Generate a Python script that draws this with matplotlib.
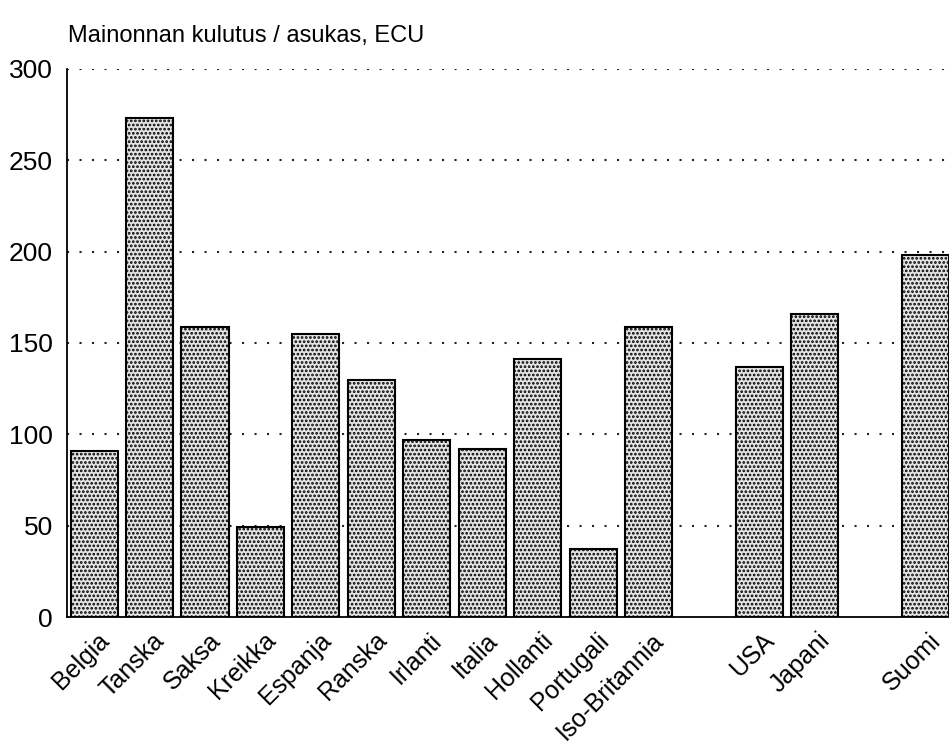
import matplotlib
matplotlib.use("Agg")
import matplotlib.pyplot as plt
from matplotlib.transforms import ScaledTranslation

# advertising spend per inhabitant, ECU
countries = ["Belgia", "Tanska", "Saksa", "Kreikka", "Espanja", "Ranska", "Irlanti",
             "Italia", "Hollanti", "Portugali", "Iso-Britannia", "USA", "Japani", "Suomi"]
slots = [0, 1, 2, 3, 4, 5, 6, 7, 8, 9, 10, 12, 13, 15]
spend = [91, 273, 159, 49, 155, 130, 97, 92, 141, 37, 159, 137, 166, 198]
yticks = [0, 50, 100, 150, 200, 250, 300]

plt.rcParams["font.family"] = ["Liberation Sans", "DejaVu Sans"]
plt.rcParams["hatch.linewidth"] = 1.3

fig = plt.figure(figsize=(9.49, 7.45), dpi=100)
ax = fig.add_axes([0.0706, 0.1718, 0.9294, 0.7356])

ax.bar(slots, spend, width=0.85, color="#e4e4e4", edgecolor="black",
       linewidth=1.5, hatch="....", zorder=3)
ax.set_xlim(-0.49, 15.42)
ax.set_ylim(0, 300)

# dotted reference lines every 50 ECU
for v in yticks[1:]:
    ax.axhline(v, color="#222222", linestyle=(0, (1, 5)), linewidth=1.5, zorder=1)

ax.set_yticks(yticks)
ax.set_xticks(slots)
ax.set_xticklabels(countries, rotation=45, ha="right", rotation_mode="anchor")
ax.tick_params(axis="y", labelsize=19, length=0, pad=10)
ax.tick_params(axis="x", labelsize=18, length=0, pad=8)
shift = ScaledTranslation(0.03, 0, fig.dpi_scale_trans)
for lab in ax.get_xticklabels():
    lab.set_transform(lab.get_transform() + shift)
for s in ["top", "right"]:
    ax.spines[s].set_visible(False)
ax.spines["left"].set_linewidth(1.3)
ax.spines["bottom"].set_linewidth(1.3)

fig.text(0.072, 0.952, "Mainonnan kulutus / asukas, ECU", fontsize=17, va="center")

fig.savefig("out.png", dpi=100)
